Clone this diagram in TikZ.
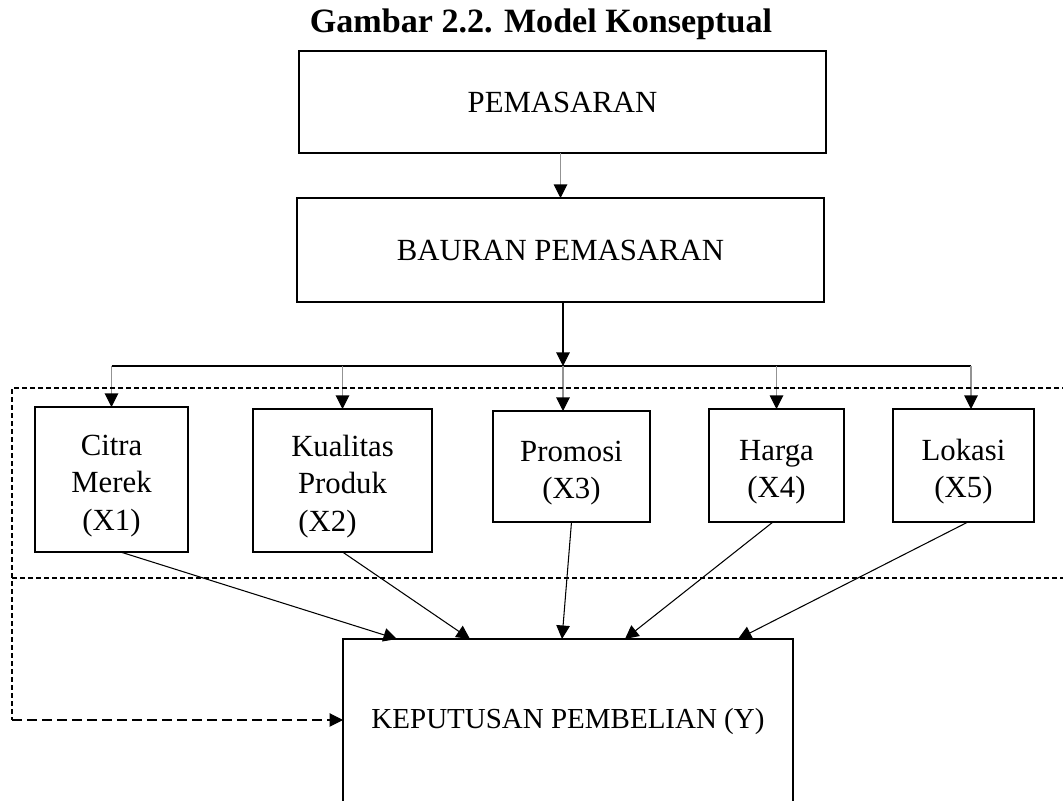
\documentclass[tikz,border=0pt]{standalone}
\usepackage{fontspec}
\setmainfont{Liberation Serif}
\usetikzlibrary{arrows.meta}

\begin{document}
\begin{tikzpicture}[every node/.style={inner sep=0pt, outer sep=0pt, align=center, font=\fontsize{17.5}{21.3}\selectfont},
  box/.style={draw, line width=1.2pt},
  tip/.style={-{Triangle[length=0.27cm,width=0.27cm,color=black]}},
  feed/.style={tip, draw=gray!85, line width=0.6pt},
  link/.style={tip, line width=0.6pt},
  zone/.style={line width=0.6pt, dash pattern=on 0.1cm off 0.06cm}]
\clip (0,0) rectangle (21.26,16.02);

\node (title) at (10.82,15.53) {\fontsize{19.4}{22}\selectfont\bfseries Gambar 2.2. Model Konseptual};
\node[box, minimum width=10.54cm, minimum height=2.04cm] (pem) at (11.25,13.98) {PEMASARAN};
\node[box, minimum width=10.54cm, minimum height=2.08cm] (bau) at (11.21,11.02) {BAURAN PEMASARAN};

% the strut drops each text a little inside its box
\node[box, minimum width=3.06cm, minimum height=2.9cm] (citra) at (2.23,6.43) {\rule{0pt}{0.66cm}Citra\\Merek\\(X1)};
\node[box, minimum width=3.58cm, minimum height=2.86cm] (kualitas) at (6.85,6.41) {\rule{0pt}{0.66cm}Kualitas\\Produk\\(X2)\hspace*{0.6cm}};
\node[box, minimum width=3.14cm, minimum height=2.22cm] (promosi) at (11.43,6.69) {\rule{0pt}{0.66cm}Promosi\\(X3)};
\node[box, minimum width=2.7cm, minimum height=2.26cm] (harga) at (15.53,6.71) {\rule{0pt}{0.66cm}Harga\\(X4)};
\node[box, minimum width=2.82cm, minimum height=2.26cm] (lokasi) at (19.27,6.71) {\rule{0pt}{0.66cm}Lokasi\\(X5)};

\node[box, minimum width=9cm, minimum height=3.6cm, text height=0.45cm, text depth=0.45cm,
  font=\fontsize{16.5}{20}\selectfont] (kep) at (11.36,1.44) {KEPUTUSAN PEMBELIAN (Y)};

% tree
\coordinate (split) at (11.26,8.7);
\coordinate (lokdrop) at ([xshift=0.15cm]lokasi.north);
\draw[feed] (pem.south -| bau.north) -- (bau.north);
\draw[link] (bau.south -| split) -- (split);
\draw[line width=0.6pt] (split -| citra.north) -- (split -| lokdrop);
\foreach \n in {citra,kualitas,harga}
  \draw[feed] (split -| \n.north) -- (\n.north);
\draw[feed] (split) -- (split |- promosi.north);
\draw[feed] (split -| lokdrop) -- (lokdrop);

% to Y
\foreach \src/\dx/\off in {citra/0.18/1.08, kualitas/0/2.54, promosi/0/4.38, harga/-0.07/5.64, lokasi/0.09/7.9}
  \draw[link] ([xshift=\dx cm]\src.south) -- ([xshift=\off cm]kep.north west);

% dashed frame
\coordinate (back) at (0.24,1.62);
\draw[zone] (21.5,8.26) -- (0.24,8.26) -- (back);
\draw[zone] (0.24,4.46) -- (21.5,4.46);
\draw[link, dash pattern=on 0.2cm off 0.1cm] (back) -- (back -| kep.west);
\end{tikzpicture}
\end{document}
